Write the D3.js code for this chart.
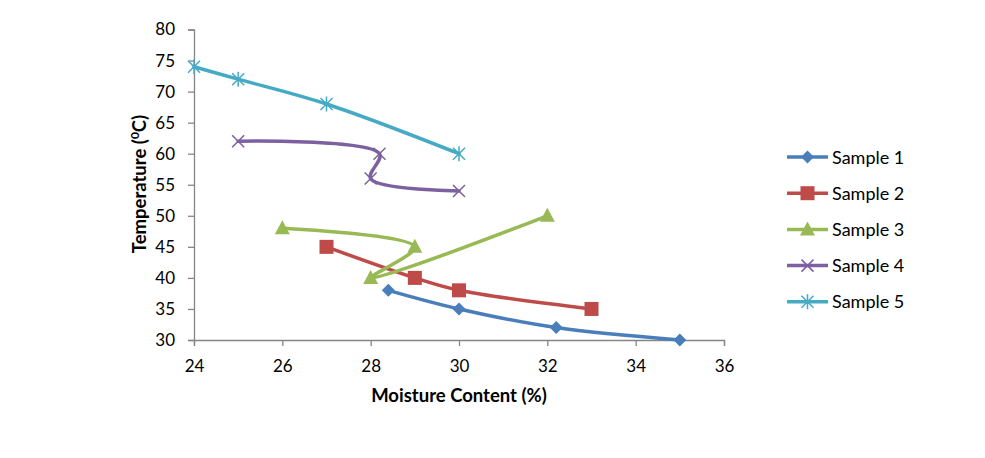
<!DOCTYPE html>
<html>
<head>
<meta charset="utf-8">
<script src="https://cdn.jsdelivr.net/npm/d3@7"></script>
<style>
  body { margin: 0; background: #fff; }
  text { font-family: Lato, "Open Sans", sans-serif; fill: #000; }
</style>
</head>
<body>
<svg id="chart" width="985" height="458"></svg>
<script>
'use strict';

var seriesNames = ['Sample 1', 'Sample 2', 'Sample 3', 'Sample 4', 'Sample 5'];
var seriesColors = ['#4A7EBB', '#BE4B48', '#98B954', '#7D60A0', '#46AAC5'];
var seriesMarkers = ['diamond', 'square', 'triangle', 'x', 'star'];

var sample1 = [[28.4, 38], [30, 35], [32.2, 32], [35, 30]];
var sample2 = [[27, 45], [29, 40], [30, 38], [33, 35]];
var sample3 = [[26, 48], [29, 45], [28, 40], [32, 50]];
var sample4 = [[25, 62], [28.2, 60], [28, 56], [30, 54]];
var sample5 = [[24, 74], [25, 72], [27, 68], [30, 60]];
var seriesData = [sample1, sample2, sample3, sample4, sample5];

var xTicks = [24, 26, 28, 30, 32, 34, 36];
var yTicks = [30, 35, 40, 45, 50, 55, 60, 65, 70, 75, 80];

var svg = d3.select('#chart');

var xScale = d3.scaleLinear().domain([24, 36]).range([194, 724]);
var yScale = d3.scaleLinear().domain([30, 80]).range([340, 29.5]);

function translate(x, y) {
  return 'translate(' + x + ', ' + y + ')';
}

// axes
var xAxis = d3.axisBottom(xScale).tickValues(xTicks).tickSize(6).tickPadding(14);
var yAxis = d3.axisLeft(yScale).tickValues(yTicks).tickSize(6).tickPadding(13);

var gx = svg.append('g').attr('transform', translate(0, 340)).call(xAxis);
var gy = svg.append('g').attr('transform', translate(194, 0)).call(yAxis);

[gx, gy].forEach(function (g) {
  g.selectAll('path, line').attr('stroke', '#868686').attr('stroke-width', 1.3);
  g.selectAll('text').style('font-size', '17px').attr('fill', '#000');
});

// axis titles
svg.append('text')
  .attr('x', 459)
  .attr('y', 402)
  .attr('text-anchor', 'middle')
  .style('font-size', '18.5px')
  .style('font-weight', 'bold')
  .text('Moisture Content (%)');

var yTitle = svg.append('text')
  .attr('transform', translate(146, 184) + ' rotate(-90)')
  .attr('text-anchor', 'middle')
  .style('font-size', '18.5px')
  .style('font-weight', 'bold');
yTitle.append('tspan').text('Temperature (');
yTitle.append('tspan').attr('dy', -7).style('font-size', '12px').text('0');
yTitle.append('tspan').attr('dy', 7).text('C)');

// marker drawing
function drawMarker(g, type, color) {
  if (type === 'diamond') {
    g.append('path').attr('d', 'M0,-6.5L6.5,0L0,6.5L-6.5,0Z').attr('fill', color);
  } else if (type === 'square') {
    g.append('rect').attr('x', -7).attr('y', -7).attr('width', 14).attr('height', 14).attr('fill', color);
  } else if (type === 'triangle') {
    g.append('path').attr('d', 'M0,-8L7.5,6L-7.5,6Z').attr('fill', color);
  } else if (type === 'x') {
    g.append('path').attr('d', 'M-6,-6L6,6M-6,6L6,-6')
      .attr('stroke', color).attr('stroke-width', 1.5).attr('fill', 'none');
  } else if (type === 'star') {
    g.append('path').attr('d', 'M-6,-6L6,6M-6,6L6,-6M0,-7.5L0,7.5')
      .attr('stroke', color).attr('stroke-width', 1.5).attr('fill', 'none');
  }
}

var line = d3.line()
  .x(function (d) { return xScale(d[0]); })
  .y(function (d) { return yScale(d[1]); })
  .curve(d3.curveCatmullRom.alpha(0.5));

seriesData.forEach(function (data, i) {
  var color = seriesColors[i];
  svg.append('path')
    .datum(data)
    .attr('d', line)
    .attr('fill', 'none')
    .attr('stroke', color)
    .attr('stroke-width', 3.5)
    .attr('stroke-linejoin', 'round')
    .attr('stroke-linecap', 'round');

  data.forEach(function (d) {
    var g = svg.append('g').attr('transform', translate(xScale(d[0]), yScale(d[1])));
    drawMarker(g, seriesMarkers[i], color);
  });
});

// legend
var legend = svg.append('g').attr('transform', translate(787, 157));
seriesNames.forEach(function (name, i) {
  var row = legend.append('g').attr('transform', translate(0, i * 36.2));
  row.append('line')
    .attr('x1', 0).attr('x2', 41)
    .attr('stroke', seriesColors[i])
    .attr('stroke-width', 3.5);
  var m = row.append('g').attr('transform', translate(20.5, 0));
  drawMarker(m, seriesMarkers[i], seriesColors[i]);
  row.append('text')
    .attr('x', 45)
    .attr('y', 6.5)
    .style('font-size', '18px')
    .text(name);
});
</script>
</body>
</html>
